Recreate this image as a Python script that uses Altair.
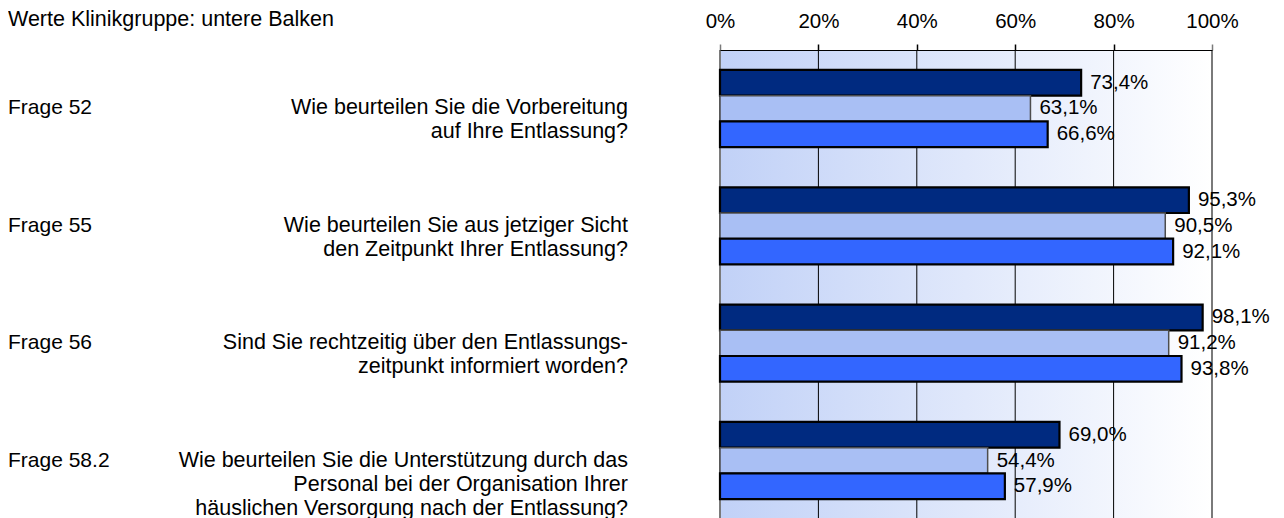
import altair as alt
import pandas as pd

title_text = "Werte Klinikgruppe: untere Balken"
frage = ["Frage 52", "Frage 55", "Frage 56", "Frage 58.2"]
question_lines = [
    ["Wie beurteilen Sie die Vorbereitung", "auf Ihre Entlassung?"],
    ["Wie beurteilen Sie aus jetziger Sicht", "den Zeitpunkt Ihrer Entlassung?"],
    ["Sind Sie rechtzeitig über den Entlassungs-", "zeitpunkt informiert worden?"],
    ["Wie beurteilen Sie die Unterstützung durch das",
     "Personal bei der Organisation Ihrer",
     "häuslichen Versorgung nach der Entlassung?"],
]
series = ["Klinik", "Vergleichsgruppe", "Klinikgruppe"]
values_klinik = [73.4, 95.3, 98.1, 69.0]
values_vergleich = [63.1, 90.5, 91.2, 54.4]
values_gruppe = [66.6, 92.1, 93.8, 57.9]
bar_colors = ["#002a80", "#a9bff4", "#3366ff"]
bar_strokes = ["#000000", "#4d4d4d", "#000000"]
tick_values = [0, 20, 40, 60, 80, 100]

FONT = "Liberation Sans"
FS = 20.5
W, H = 492, 469

rows = []
for s, vals in zip(series, [values_klinik, values_vergleich, values_gruppe]):
    for q, v in zip(frage, vals):
        rows.append({"frage": q, "series": s, "value": v})
bars_df = pd.DataFrame(rows)

q_df = pd.DataFrame({
    "frage": frage,
    "qtext": ["\n".join(l) for l in question_lines],
    "ftext": [q + "\n" * (len(l) - 1) for q, l in zip(frage, question_lines)],
})
grid_df = pd.DataFrame({"v": tick_values})

y_enc = alt.Y("frage:N", sort=frage,
              scale=alt.Scale(domain=frage, paddingInner=0.343, paddingOuter=0.17),
              axis=None)
yoff_enc = alt.YOffset("series:N", sort=series,
                       scale=alt.Scale(domain=series, paddingInner=0, paddingOuter=0))
x_scale = alt.Scale(domain=[0, 100])

edge = "datum.value == 0 || datum.value == 100"

x_axis = alt.Axis(orient="top", values=tick_values, labelExpr="datum.value + '%'",
                  grid=False, domain=True, domainColor="#000000", domainWidth=1,
                  ticks=True, tickSize=6,
                  tickColor=alt.condition(edge, alt.value("#7a7a7a"), alt.value("#000000")),
                  tickWidth=1.5, labelFlush=False, labelOverlap=False,
                  labelFont=FONT, labelFontSize=FS, labelColor="#000000",
                  labelPadding=13, labelBaseline="bottom", title=None, zindex=1)

background = alt.Chart(alt.Data(values=[{}])).mark_rect(
    fill={"gradient": "linear", "x1": 0, "y1": 0, "x2": 1, "y2": 0,
          "stops": [{"offset": 0, "color": "#c1d1f7"},
                    {"offset": 1, "color": "#ffffff"}]}
).encode(x=alt.value(0), x2=alt.value(W), y=alt.value(0), y2=alt.value(H + 20))

grid = alt.Chart(grid_df).mark_rule().encode(
    x=alt.X("v:Q", scale=x_scale, axis=x_axis),
    y=alt.value(0), y2=alt.value(H + 20),
    stroke=alt.condition("datum.v == 0 || datum.v == 100", alt.value("#7a7a7a"), alt.value("#000000")),
    strokeWidth=alt.condition("datum.v == 0 || datum.v == 100", alt.value(2), alt.value(1)),
)

bars = alt.Chart(bars_df).mark_bar().encode(
    x=alt.X("value:Q", scale=x_scale, axis=x_axis),
    y=y_enc,
    yOffset=yoff_enc,
    fill=alt.Fill("series:N", scale=alt.Scale(domain=series, range=bar_colors), legend=None),
    stroke=alt.Stroke("series:N", scale=alt.Scale(domain=series, range=bar_strokes), legend=None),
    strokeWidth=alt.condition("datum.series == 'Vergleichsgruppe'", alt.value(1.5), alt.value(2.2)),
)

labels = alt.Chart(bars_df).transform_calculate(
    label="replace(format(datum.value, '.1f'), '.', ',') + '%'"
).mark_text(align="left", baseline="middle", dx=9, font=FONT, fontSize=FS, color="#000000").encode(
    x=alt.X("value:Q", scale=x_scale, axis=x_axis),
    y=y_enc,
    yOffset=yoff_enc,
    text="label:N",
)

qtexts = alt.Chart(q_df).mark_text(
    align="right", baseline="middle", lineBreak="\n", lineHeight=24,
    font=FONT, fontSize=21.5, color="#000000"
).encode(x=alt.value(-92), y=y_enc, text="qtext:N")

ftexts = alt.Chart(q_df).mark_text(
    align="left", baseline="middle", lineBreak="\n", lineHeight=24,
    font=FONT, fontSize=21, color="#000000"
).encode(x=alt.value(-712), y=y_enc, text="ftext:N")

title = alt.Chart(alt.Data(values=[{"t": title_text}])).mark_text(
    align="left", baseline="alphabetic", font=FONT, fontSize=21.5, color="#000000"
).encode(x=alt.value(-712), y=alt.value(-24), text="t:N")

chart = alt.layer(background, grid, bars, labels, qtexts, ftexts, title).properties(
    width=W, height=H,
    padding={"left": 712, "top": 42, "right": 64, "bottom": 0},
    autosize=alt.AutoSizeParams(type="none"),
).configure_view(stroke=None)

chart.save("out.html", embed_options={"renderer": "svg", "actions": False})
